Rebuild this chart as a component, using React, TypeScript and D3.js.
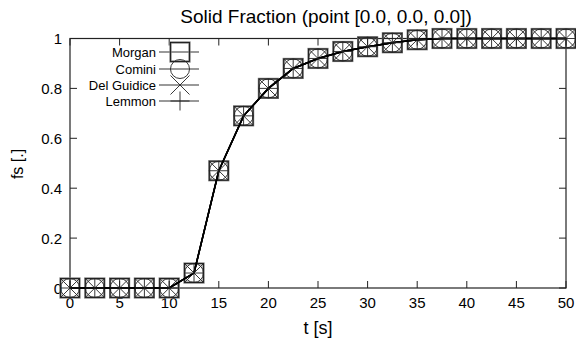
import * as d3 from "d3";
import React, { useEffect, useRef } from "react";

// time samples [s] and solid fraction (all four models overlap)
const times = [0, 2.5, 5, 7.5, 10, 12.5, 15, 17.5, 20, 22.5, 25, 27.5, 30, 32.5, 35, 37.5, 40, 42.5, 45, 47.5, 50];
const morgan = [0, 0, 0, 0, 0, 0.06, 0.47, 0.69, 0.8, 0.88, 0.92, 0.948, 0.967, 0.983, 0.995, 1, 1, 1, 1, 1, 1];
const comini = [0, 0, 0, 0, 0, 0.06, 0.47, 0.69, 0.8, 0.88, 0.92, 0.948, 0.967, 0.983, 0.995, 1, 1, 1, 1, 1, 1];
const delGuidice = [0, 0, 0, 0, 0, 0.06, 0.47, 0.69, 0.8, 0.88, 0.92, 0.948, 0.967, 0.983, 0.995, 1, 1, 1, 1, 1, 1];
const lemmon = [0, 0, 0, 0, 0, 0.06, 0.47, 0.69, 0.8, 0.88, 0.92, 0.948, 0.967, 0.983, 0.995, 1, 1, 1, 1, 1, 1];

const seriesNames = ["Morgan", "Comini", "Del Guidice", "Lemmon"];
const seriesMarkers = ["square", "circle", "cross", "plus"];
const xTicks = [0, 5, 10, 15, 20, 25, 30, 35, 40, 45, 50];
const yTicks = [0, 0.2, 0.4, 0.6, 0.8, 1];

const FONT = "'Liberation Sans', Arial, Helvetica, sans-serif";

const drawMarker = (g, kind, cx, cy, s) => {
  const h = s / 2;
  if (kind === "square") {
    g.append("rect")
      .attr("x", cx - h)
      .attr("y", cy - h)
      .attr("width", s)
      .attr("height", s)
      .attr("fill", "none")
      .attr("stroke", "#777")
      .attr("stroke-width", 2.2);
    g.append("rect")
      .attr("x", cx - h)
      .attr("y", cy - h)
      .attr("width", s)
      .attr("height", s)
      .attr("fill", "none")
      .attr("stroke", "#111")
      .attr("stroke-width", 0.8);
  } else if (kind === "circle") {
    g.append("circle")
      .attr("cx", cx)
      .attr("cy", cy)
      .attr("r", h)
      .attr("fill", "none")
      .attr("stroke", "#222")
      .attr("stroke-width", 0.9);
  } else if (kind === "cross") {
    g.append("path")
      .attr("d", `M${cx - h},${cy - h}L${cx + h},${cy + h}M${cx - h},${cy + h}L${cx + h},${cy - h}`)
      .attr("stroke", "#222")
      .attr("stroke-width", 0.9);
  } else {
    g.append("path")
      .attr("d", `M${cx - h},${cy}L${cx + h},${cy}M${cx},${cy - h}L${cx},${cy + h}`)
      .attr("stroke", "#222")
      .attr("stroke-width", 0.9);
  }
};

const App = () => {
  const ref = useRef(null);

  useEffect(() => {
    const width = 576;
    const height = 343;
    const margin = { top: 38.5, right: 10, bottom: 55, left: 70 };

    const svg = d3.select(ref.current).attr("width", width).attr("height", height);
    svg.selectAll("*").remove();

    const x = d3.scaleLinear().domain([0, 50]).range([margin.left, width - margin.right]);
    const y = d3.scaleLinear().domain([0, 1]).range([height - margin.bottom, margin.top]);

    const [x0, x1] = x.range();
    const [y0, y1] = y.range();

    // title
    svg
      .append("text")
      .attr("x", 326)
      .attr("y", 22.5)
      .attr("text-anchor", "middle")
      .style("font-family", FONT)
      .style("font-size", "19px")
      .text("Solid Fraction (point [0.0, 0.0, 0.0])");

    // frame
    svg
      .append("rect")
      .attr("x", x0)
      .attr("y", y1)
      .attr("width", x1 - x0)
      .attr("height", y0 - y1)
      .attr("fill", "none")
      .attr("stroke", "#222")
      .attr("stroke-width", 1.2);

    const tickLen = 7;
    xTicks.forEach((t) => {
      svg.append("line").attr("x1", x(t)).attr("x2", x(t)).attr("y1", y0).attr("y2", y0 - tickLen).attr("stroke", "#222");
      svg.append("line").attr("x1", x(t)).attr("x2", x(t)).attr("y1", y1).attr("y2", y1 + tickLen).attr("stroke", "#222");
      svg
        .append("text")
        .attr("x", x(t))
        .attr("y", y0 + 19.5)
        .attr("text-anchor", "middle")
        .style("font-family", FONT)
        .style("font-size", "15px")
        .text(t);
    });
    yTicks.forEach((v) => {
      svg.append("line").attr("x1", x0).attr("x2", x0 + tickLen).attr("y1", y(v)).attr("y2", y(v)).attr("stroke", "#222");
      svg.append("line").attr("x1", x1).attr("x2", x1 - tickLen).attr("y1", y(v)).attr("y2", y(v)).attr("stroke", "#222");
      svg
        .append("text")
        .attr("x", x0 - 8)
        .attr("y", y(v) + 5.5)
        .attr("text-anchor", "end")
        .style("font-family", FONT)
        .style("font-size", "15px")
        .text(d3.format("~g")(v));
    });

    // axis titles
    svg
      .append("text")
      .attr("x", 318)
      .attr("y", 334)
      .attr("text-anchor", "middle")
      .style("font-family", FONT)
      .style("font-size", "18px")
      .text("t [s]");
    svg
      .append("text")
      .attr("transform", `translate(23, 164) rotate(-90)`)
      .attr("text-anchor", "middle")
      .style("font-family", FONT)
      .style("font-size", "16px")
      .text("fs [.]");

    const line = d3
      .line()
      .x((d) => x(d[0]))
      .y((d) => y(d[1]));

    const allSeries = [morgan, comini, delGuidice, lemmon];
    const ms = 19;

    allSeries.forEach((vals, i) => {
      const pts = times.map((t, j) => [t, vals[j]]);
      const g = svg.append("g");
      g.append("path")
        .attr("d", line(pts))
        .attr("fill", "none")
        .attr("stroke", "#000")
        .attr("stroke-width", 1.5);
      pts.forEach((p) => drawMarker(g, seriesMarkers[i], x(p[0]), y(p[1]), ms));
    });

    // legend
    const legY = [52, 69, 85, 101];
    seriesNames.forEach((name, i) => {
      const g = svg.append("g");
      g.append("text")
        .attr("x", 156)
        .attr("y", legY[i] + 4.5)
        .attr("text-anchor", "end")
        .style("font-family", FONT)
        .style("font-size", "13px")
        .text(name);
      g.append("line")
        .attr("x1", 159)
        .attr("x2", 199)
        .attr("y1", legY[i])
        .attr("y2", legY[i])
        .attr("stroke", "#777")
        .attr("stroke-width", 1.5);
      drawMarker(g, seriesMarkers[i], 180, legY[i], ms);
    });
  }, []);

  return (
    <div style={{ position: "absolute", left: 0, top: 0 }}>
      <svg ref={ref}></svg>
    </div>
  );
};

export default App;
